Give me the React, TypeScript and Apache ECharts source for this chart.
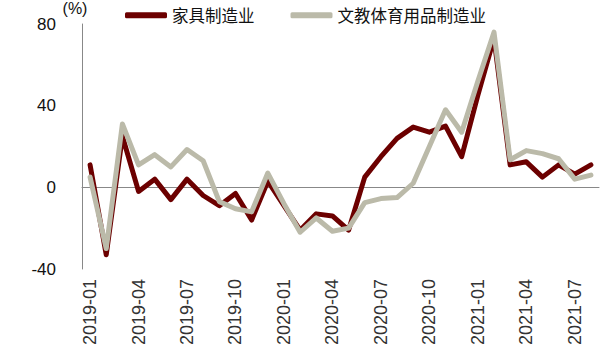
import React, { useEffect, useRef } from "react";
import * as echarts from "echarts";

const months = [
  "2019-01", "2019-02", "2019-03", "2019-04", "2019-05", "2019-06",
  "2019-07", "2019-08", "2019-09", "2019-10", "2019-11", "2019-12",
  "2020-01", "2020-02", "2020-03", "2020-04", "2020-05", "2020-06",
  "2020-07", "2020-08", "2020-09", "2020-10", "2020-11", "2020-12",
  "2021-01", "2021-02", "2021-03", "2021-04", "2021-05", "2021-06",
  "2021-07", "2021-08",
];

const furniture = [
  11, -33, 25, -2, 4, -6, 4, -4, -9, -3, -16, 3,
  -9, -21, -13, -14, -21, 5, 15, 24, 29.5, 27, 30, 15,
  45, 73, 11, 12.5, 5, 11, 6.5, 11,
];

const education = [
  5, -30, 31, 11, 16, 10, 18.5, 13, -7, -10.5, -12, 7,
  -8, -22, -15, -21.5, -20, -7.5, -5.5, -5, 2, 20, 38, 27,
  52, 76, 13.5, 18, 16.5, 14, 4, 6,
];

const seriesNames = ["家具制造业", "文教体育用品制造业"];
const seriesColors = ["#6C0000", "#BBBAA9"];
const yMin = -40;
const yMax = 80;
const yStep = 40;

export default function App() {
  const ref = useRef<HTMLDivElement>(null);
  useEffect(() => {
    document.body.style.margin = "0";
    const chart = echarts.init(ref.current!, null, { renderer: "svg" });
    const numFont = "'Liberation Sans', Arial, sans-serif";
    const cjkFont = "'Noto Sans CJK SC', 'Liberation Sans', sans-serif";
    chart.setOption({
      animation: false,
      backgroundColor: "#fff",
      grid: { left: 82, right: 7, top: 23, bottom: 90 },
      legend: {
        left: 120,
        top: 2,
        itemWidth: 42,
        itemHeight: 6,
        itemGap: 36,
        icon: "roundRect",
        textStyle: { fontSize: 16.5, color: "#111", fontFamily: cjkFont },
        data: seriesNames,
      },
      xAxis: [
        {
          type: "category",
          data: months,
          boundaryGap: true,
          position: "bottom",
          axisLine: { show: false, onZero: false },
          axisTick: { show: false },
          splitLine: { show: false },
          axisLabel: {
            interval: 2,
            rotate: 90,
            margin: 10,
            fontSize: 18,
            color: "#333",
            fontFamily: numFont,
          },
        },
        {
          type: "category",
          data: months,
          boundaryGap: true,
          position: "top",
          axisLine: { show: true, onZero: true, lineStyle: { color: "#888", width: 1 } },
          axisTick: { show: false },
          axisLabel: { show: false },
          splitLine: { show: false },
        },
      ],
      yAxis: {
        type: "value",
        min: yMin,
        max: yMax,
        interval: yStep,
        name: "(%)",
        nameLocation: "end",
        nameGap: 8,
        nameTextStyle: {
          fontSize: 16,
          color: "#111",
          fontFamily: numFont,
          padding: [0, 14, 0, 0],
        },
        axisLine: { show: true, lineStyle: { color: "#888", width: 1 } },
        axisTick: { show: false },
        splitLine: { show: false },
        axisLabel: { fontSize: 17, color: "#111", margin: 26, fontFamily: numFont },
      },
      series: [
        {
          name: seriesNames[0],
          type: "line",
          xAxisIndex: 0,
          data: furniture,
          symbol: "none",
          lineStyle: { color: seriesColors[0], width: 5, cap: "round", join: "round" },
          itemStyle: { color: seriesColors[0] },
        },
        {
          name: seriesNames[1],
          type: "line",
          xAxisIndex: 0,
          data: education,
          symbol: "none",
          lineStyle: { color: seriesColors[1], width: 5, cap: "round", join: "round" },
          itemStyle: { color: seriesColors[1] },
        },
      ],
    });
    return () => chart.dispose();
  }, []);
  return <div ref={ref} style={{ width: 606, height: 359 }} />;
}
